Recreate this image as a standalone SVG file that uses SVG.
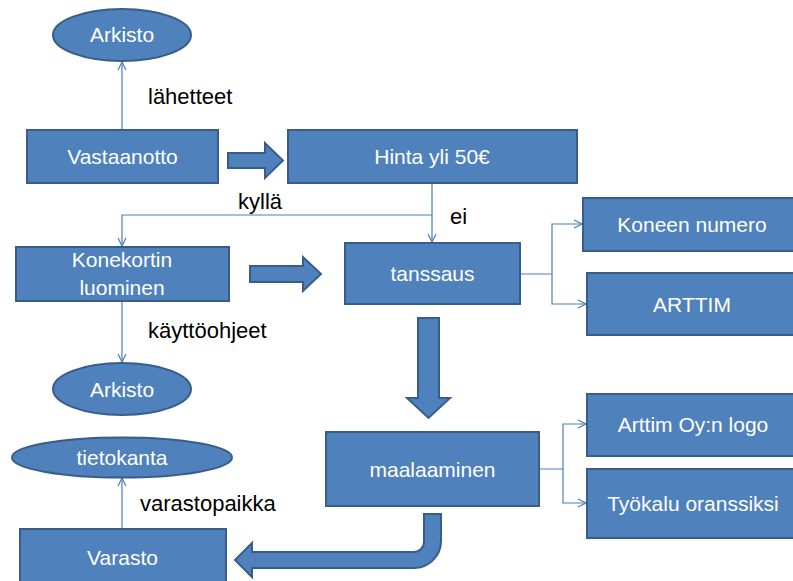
<svg xmlns="http://www.w3.org/2000/svg" width="793" height="581" viewBox="0 0 793 581">
<defs>
<style>
.n{fill:#4F81BD;stroke:#385D8A;stroke-width:2}
.t{font-family:"Liberation Sans",Arial,sans-serif;font-size:21px;fill:#FFFFFF;text-anchor:middle}
.l{font-family:"Liberation Sans",Arial,sans-serif;font-size:22px;fill:#000000}
.c{fill:none;stroke:#4A7EBB;stroke-width:1.2;marker-end:url(#ah)}
.b{fill:#4F81BD;stroke:#385D8A;stroke-width:2;stroke-linejoin:miter}
</style>
<marker id="ah" markerWidth="10" markerHeight="10" refX="9" refY="5" orient="auto" markerUnits="userSpaceOnUse">
<path d="M1,1 L9,5 L1,9" fill="none" stroke="#4A7EBB" stroke-width="1.2"/>
</marker>
</defs>
<rect width="793" height="581" fill="#FFFFFF"/>
<g id="connectors">
<path class="c" d="M122,130 V62"/>
<path class="c" d="M432,183 V242"/>
<path class="c" d="M432,215 H122 V246"/>
<path class="c" d="M520,274 H552 V224 H582"/>
<path class="c" d="M552,274 V304 H586"/>
<path class="c" d="M122,301 V362"/>
<path class="c" d="M539,469 H563 V424 H586"/>
<path class="c" d="M563,469 V503 H586"/>
<path class="c" d="M122,529 V478"/>
<polygon class="b" points="228,153 265,153 265,143 283,160.5 265,178 265,168 228,168"/>
<polygon class="b" points="250,266 303,266 303,257 321,274 303,291 303,282 250,282"/>
<polygon class="b" points="418,318 439,318 439,398 450,398 428.5,418 407,398 418,398"/>
<path class="b" d="M424,514 H441 V541 A27,27 0 0 1 414,568 H252 V577 L235,560 L252,543 V552 H414 A10,10 0 0 0 424,542 Z"/>
</g>
<g id="arkisto1">
<ellipse class="n" cx="122" cy="35" rx="69" ry="26"/>
<text class="t" x="122" y="42">Arkisto</text>
</g>
<g id="label-lahetteet"><text class="l" x="148" y="104">lähetteet</text></g>
<g id="vastaanotto">
<rect class="n" x="27" y="130" width="191" height="53"/>
<text class="t" x="122.5" y="164">Vastaanotto</text>
</g>
<g id="hinta">
<rect class="n" x="288" y="130" width="289" height="53"/>
<text class="t" x="432" y="164">Hinta yli 50€</text>
</g>
<g id="label-kylla"><text class="l" x="238" y="209">kyllä</text></g>
<g id="label-ei"><text class="l" x="450" y="224">ei</text></g>
<g id="konekortin">
<rect class="n" x="16" y="247" width="213" height="54"/>
<text class="t" x="122" y="267">Konekortin</text>
<text class="t" x="122" y="295">luominen</text>
</g>
<g id="tanssaus">
<rect class="n" x="345" y="243" width="175" height="61"/>
<text class="t" x="432.5" y="281">tanssaus</text>
</g>
<g id="koneen-numero">
<rect class="n" x="583" y="198" width="220" height="53"/>
<text class="t" x="692" y="232">Koneen numero</text>
</g>
<g id="arttim">
<rect class="n" x="587" y="273" width="216" height="62"/>
<text class="t" x="692" y="311.5">ARTTIM</text>
</g>
<g id="label-kayttoohjeet"><text class="l" x="148" y="338">käyttöohjeet</text></g>
<g id="arkisto2">
<ellipse class="n" cx="122" cy="389" rx="69" ry="26"/>
<text class="t" x="122" y="396.5">Arkisto</text>
</g>
<g id="maalaaminen">
<rect class="n" x="326" y="432" width="213" height="74"/>
<text class="t" x="432.5" y="476.5">maalaaminen</text>
</g>
<g id="arttim-logo">
<rect class="n" x="587" y="394" width="216" height="62"/>
<text class="t" x="693" y="432">Arttim Oy:n logo</text>
</g>
<g id="tyokalu">
<rect class="n" x="587" y="469" width="216" height="69"/>
<text class="t" x="693" y="511">Työkalu oranssiksi</text>
</g>
<g id="tietokanta">
<ellipse class="n" cx="122" cy="457.5" rx="110" ry="20"/>
<text class="t" x="122" y="465">tietokanta</text>
</g>
<g id="label-varastopaikka"><text class="l" x="140" y="511">varastopaikka</text></g>
<g id="varasto">
<rect class="n" x="20" y="529" width="206" height="60"/>
<text class="t" x="122.5" y="565">Varasto</text>
</g>
</svg>
